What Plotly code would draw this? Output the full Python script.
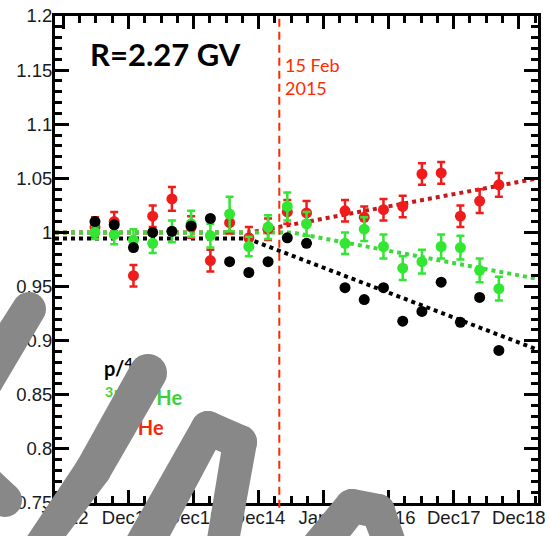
import math
import pandas as pd
import plotly.graph_objects as go

# ---------------------------------------------------------------------------
# Ratios normalised to their 2012-2014 mean, one point per 4 Bartels rotations
# ---------------------------------------------------------------------------
dates = [
    "2012-04-16", "2012-08-02", "2012-11-18", "2013-03-06", "2013-06-22",
    "2013-10-08", "2014-01-24", "2014-05-12", "2014-08-28", "2014-12-14",
    "2015-04-01", "2015-07-18", "2016-02-19", "2016-06-06", "2016-09-22",
    "2017-01-08", "2017-04-26", "2017-08-12", "2017-11-28", "2018-03-16",
    "2018-07-02",
]

p_he = [1.010, 1.007, 0.986, 1.000, 1.001, 1.006, 1.013, 0.973, 0.963, 0.973,
        0.995, 0.990, 0.949, 0.938, 0.949, 0.918, 0.927, 0.954, 0.917, 0.940,
        0.891]
p_he_err = [0.002] * 21

he3_he4 = [1.000, 0.998, 0.993, 0.990, 1.001, 1.008, 0.997, 1.017, 0.987, 1.005,
           1.024, 1.008, 0.990, 1.003, 0.987, 0.967, 0.973, 0.987, 0.986, 0.965,
           0.948]
he3_he4_err = [0.006, 0.009, 0.010, 0.009, 0.010, 0.012, 0.011, 0.016, 0.009, 0.011,
               0.013, 0.011, 0.010, 0.011, 0.011, 0.011, 0.011, 0.011, 0.011, 0.011,
               0.011]

d_he = [1.005, 1.010, 0.960, 1.015, 1.031, 1.005, 0.974, 1.009, 0.995, 1.003,
        1.019, 1.018, 1.020, 1.014, 1.021, 1.024, 1.054, 1.055, 1.015, 1.029,
        1.044]
d_he_err = [0.009, 0.009, 0.010, 0.010, 0.011, 0.010, 0.010, 0.010, 0.010, 0.010,
            0.011, 0.011, 0.010, 0.010, 0.010, 0.010, 0.010, 0.010, 0.010, 0.011,
            0.011]

# Fits: constant level, then a straight line after the break
fit_p = {"level": 0.9945, "break": "2014-08-18", "end": 0.8915}
fit_he3 = {"level": 1.000, "break": "2015-04-27", "end": 0.957}
fit_d = {"level": 1.000, "break": "2014-09-03", "end": 1.050}

x_range = ["2011-09-04 12:00", "2019-02-06 17:00"]
event_date = "2015-02-15"

# Axis labels (ticks one year apart)
x_tick_labels = ["Jan12", "Dec12", "Dec13", "Dec14", "Jan16", "Dec16", "Dec17", "Dec18"]
y_tick_vals = [0.75, 0.8, 0.85, 0.9, 0.95, 1.0, 1.05, 1.1, 1.15, 1.2]
y_tick_text = ["0.75", "0.8", "0.85", "0.9", "0.95", "1", "1.05", "1.1", "1.15", "1.2"]

RED = "#f01c1c"
GREEN = "#33e633"
BLACK = "#000000"
FIT_RED = "#c41a1a"
FIT_GREEN = "#3ed83e"

W, H = 549, 536
ML, MR, MT, MB = 55, 11, 16, 33
PW, PH = W - ML - MR, H - MT - MB

t0 = pd.Timestamp("2011-10-22")
year = pd.Timedelta(days=365.25)
tick_dates = [t0 + year * k for k in range(8)]
minor_dates = [t0 + year * (k + q / 4) for k in range(-1, 8) for q in (1, 2, 3)]

fig = go.Figure()


def add_fit(f, color):
    fig.add_trace(go.Scatter(
        x=[x_range[0], f["break"], x_range[1]],
        y=[f["level"], f["level"], f["end"]],
        mode="lines", line=dict(color=color, width=4, dash="4px,4px"),
        hoverinfo="skip", showlegend=False))


add_fit(fit_d, FIT_RED)
add_fit(fit_he3, FIT_GREEN)
add_fit(fit_p, BLACK)


def add_points(y, err, color):
    fig.add_trace(go.Scatter(
        x=dates, y=y, mode="markers",
        marker=dict(color=color, size=11, line=dict(width=0)),
        error_y=dict(type="data", array=err, color=color, thickness=2.5, width=4),
        showlegend=False))


add_points(d_he, d_he_err, RED)
add_points(he3_he4, he3_he4_err, GREEN)
add_points(p_he, p_he_err, BLACK)

# Legend text, placed in frame pixel coordinates on an overlay axis pair
fig.add_trace(go.Scatter(
    x=[104, 105, 109], y=[371, 400, 430], xaxis="x2", yaxis="y2",
    mode="text", textposition="middle right",
    text=["p/<sup>4</sup>He", "<sup>3</sup>He/<sup>4</sup>He", "d/<sup>4</sup>He"],
    textfont=dict(family="Lato", size=20, weight="bold", color=[BLACK, "#3ad13a", "#f02a10"]),
    hoverinfo="skip", showlegend=False))

tick_font = dict(family="Liberation Sans", size=18.5, color="#1a1a1a")

fig.update_layout(
    width=W, height=H,
    margin=dict(l=ML, r=MR, t=MT, b=MB),
    paper_bgcolor="white", plot_bgcolor="white",
    showlegend=False,
    xaxis=dict(
        type="date", range=x_range, automargin=False,
        tickmode="array", tickvals=tick_dates, ticktext=x_tick_labels,
        ticks="inside", ticklen=13, tickwidth=2.5, tickcolor="black",
        showline=True, linecolor="black", linewidth=3, mirror="allticks",
        showgrid=False, zeroline=False, tickfont=tick_font, ticklabelstandoff=-4,
        minor=dict(tickmode="array", tickvals=minor_dates, ticks="inside",
                   ticklen=7, tickwidth=2.5, tickcolor="black", showgrid=False),
    ),
    yaxis=dict(
        range=[0.75, 1.2], automargin=False,
        tickmode="array", tickvals=y_tick_vals, ticktext=y_tick_text,
        ticks="inside", ticklen=14, tickwidth=2.5, tickcolor="black",
        showline=True, linecolor="black", linewidth=3, mirror="allticks",
        showgrid=False, zeroline=False, tickfont=tick_font, ticklabelstandoff=-4,
        minor=dict(dtick=0.01, tick0=0.75, ticks="inside",
                   ticklen=7, tickwidth=2.5, tickcolor="black", showgrid=False),
    ),
    xaxis2=dict(overlaying="x", range=[ML, ML + PW], visible=False,
                fixedrange=True, automargin=False),
    yaxis2=dict(overlaying="y", range=[MT + PH, MT], visible=False,
                fixedrange=True, automargin=False),
)

# Vertical marker for the event date
fig.add_shape(type="line", x0=event_date, x1=event_date, xref="x",
              y0=-0.01, y1=1, yref="paper",
              line=dict(color="#ff2a00", width=2, dash="8px,5px"))

fig.add_annotation(x=(88 - ML) / PW, y=1 - (54 - MT) / PH, xref="paper", yref="paper",
                   xanchor="left", yanchor="middle", showarrow=False,
                   text="R=2.27 GV", font=dict(family="Lato", size=31, weight="bold", color="black"))
fig.add_annotation(x=(283 - ML) / PW, y=1 - (52 - MT) / PH, xref="paper", yref="paper",
                   xanchor="left", yanchor="top", showarrow=False, align="left",
                   text="15 Feb<br>2015",
                   font=dict(family="Lato", size=18, color="#ff2a00"))


# Gray marker scribble drawn over the frame (pixel coordinates -> paper)
def to_paper(px, py):
    return (px - ML) / PW, (MT + PH - py) / PH


def capsule(a, b, wa, wb, n=18):
    ax, ay = a
    bx, by = b
    dx, dy = bx - ax, by - ay
    L = math.hypot(dx, dy)
    base = math.atan2(dy / L, dx / L)
    pts = []
    for i in range(n + 1):
        t = base - math.pi / 2 + math.pi * i / n
        pts.append((bx + wb / 2 * math.cos(t), by + wb / 2 * math.sin(t)))
    for i in range(n + 1):
        t = base + math.pi / 2 + math.pi * i / n
        pts.append((ax + wa / 2 * math.cos(t), ay + wa / 2 * math.sin(t)))
    path = ""
    for i, (px, py) in enumerate(pts):
        xp, yp = to_paper(px, py)
        path += ("M" if i == 0 else "L") + f"{xp:.5f},{yp:.5f} "
    return path + "Z"


# each stroke: list of (x, y, width) nodes in frame pixels
strokes = [
    [(-45, 430, 38), (29, 309, 34)],
    [(-60, 440, 36), (5, 500, 34)],
    [(28, 562, 30), (93, 470, 36), (148, 373, 38)],
    [(140, 552, 38), (208, 428, 34), (240, 442, 34), (221, 552, 32)],
    [(315, 552, 36), (352, 506, 34), (378, 511, 34), (393, 552, 32)],
]
for nodes in strokes:
    for a, b in zip(nodes[:-1], nodes[1:]):
        fig.add_shape(type="path", path=capsule(a[:2], b[:2], a[2], b[2]),
                      xref="paper", yref="paper",
                      fillcolor="#888888", line=dict(width=0), layer="above")

fig.write_html("out.html")
